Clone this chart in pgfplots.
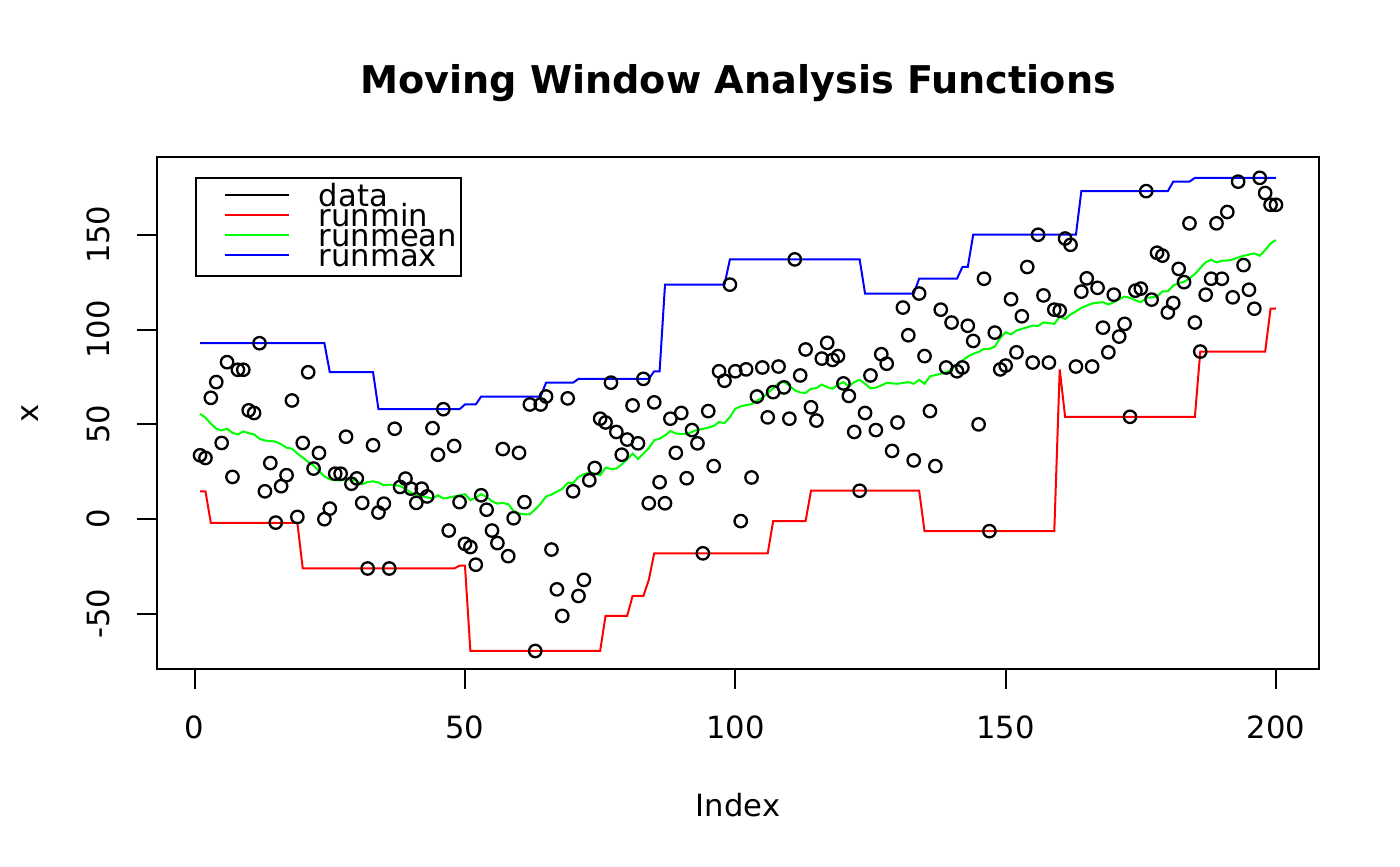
\documentclass[border=0pt]{standalone}
\usepackage{fontspec}
\setmainfont{DejaVu Sans}
\usepackage{pgfplots}
\usepackage{pgfplotstable}
\pgfplotsset{compat=1.18}

% index, value of the series
\pgfplotstableread{
i x
1 33.7
2 32.3
3 64
4 72.3
5 40.2
6 82.8
7 22.3
8 78.8
9 78.8
10 57.4
11 56
12 92.8
13 14.7
14 29.6
15 -1.8
16 17.4
17 23.2
18 62.6
19 1.2
20 40.2
21 77.5
22 26.7
23 34.9
24 0
25 5.6
26 24
27 24
28 43.5
29 18.7
30 21.5
31 8.6
32 -26
33 39
34 3.5
35 8.2
36 -26
37 47.7
38 17
39 21.4
40 16.1
41 8.6
42 16.1
43 12
44 48
45 34
46 58
47 -6
48 38.6
49 9
50 -13
51 -14.7
52 -24
53 12.6
54 5
55 -6
56 -12.6
57 37
58 -19.5
59 0.5
60 35
61 9
62 60.5
63 -69.5
64 60.5
65 64.7
66 -16
67 -37
68 -51
69 63.7
70 14.7
71 -40.5
72 -32
73 20.5
74 27
75 53
76 51
77 72
78 46
79 34
80 42
81 60
82 40
83 74
84 8.4
85 61.6
86 19.5
87 8.4
88 53
89 35
90 56
91 21.6
92 47
93 40
94 -18
95 57
96 28
97 78
98 73
99 123.7
100 78
101 -1
102 79
103 22
104 64.7
105 80
106 53.7
107 67
108 80.5
109 69.5
110 53
111 137
112 75.8
113 89.5
114 59
115 52
116 84.7
117 93
118 84
119 86
120 71.6
121 65
122 46
123 15
124 56
125 75.8
126 47
127 87
128 82
129 36
130 51
131 111.6
132 97
133 31
134 119
135 86
136 57
137 28
138 110.5
139 80
140 103.7
141 78
142 80
143 102
144 94
145 50
146 126.8
147 -6.3
148 98.4
149 79
150 81
151 116
152 88
153 107
154 133
155 82.6
156 150
157 118
158 82.6
159 110.5
160 110
161 148
162 144.7
163 80.5
164 120
165 127
166 80.5
167 122
168 101
169 88
170 118.4
171 96.3
172 103
173 54
174 120.5
175 121.6
176 173
177 115.8
178 140.5
179 139
180 109
181 114
182 132
183 125
184 156
185 103.7
186 88.4
187 118.4
188 126.8
189 156
190 126.8
191 162
192 117
193 178
194 134
195 121
196 111
197 180
198 172
199 165.8
200 165.8
}\datatable

% running mean, k = 25
\pgfplotstableread{
i m
1 55.6
2 53.5
3 50.4
4 47.7
5 46.8
6 47.7
7 45.5
8 44.7
9 46.3
10 45.4
11 44.7
12 42.4
13 41.5
14 41.2
15 40.9
16 39.5
17 37.7
18 37.2
19 34.6
20 32.5
21 30.2
22 28.2
23 25.5
24 22.6
25 21
26 20.5
27 20.5
28 21
29 20.8
30 20.2
31 18.4
32 19.6
33 20
34 19.3
35 17.9
36 18.2
37 18
38 17.5
39 16
40 14
41 12.6
42 12.1
43 11.5
44 10.9
45 12.6
46 10.9
47 11.4
48 12
49 12.6
50 13.2
51 10
52 11.4
53 13.2
54 11.8
55 9.5
56 8.2
57 8.6
58 7.9
59 4.4
60 3
61 2.6
62 2.6
63 5.1
64 8.2
65 12
66 13
67 14.5
68 16
69 19.1
70 19.1
71 22.3
72 23.7
73 24.5
74 24
75 23.2
76 27.2
77 26.5
78 26.7
79 28.9
80 31.5
81 34.6
82 31.7
83 34.6
84 37.5
85 41.6
86 42.5
87 44.2
88 46.5
89 45.2
90 45
91 44.9
92 46
93 47.2
94 47.6
95 48.3
96 49.2
97 51.2
98 50.7
99 53.8
100 58.3
101 59.5
102 60.2
103 60.6
104 62.6
105 64
106 66.5
107 69
108 71.8
109 72.3
110 70.5
111 68
112 66.8
113 66.6
114 68.8
115 69.1
116 71
117 69.6
118 68.8
119 71
120 72.3
121 70
122 72.3
123 73.5
124 71.4
125 69
126 69.4
127 70.5
128 71.9
129 71.6
130 71.4
131 71.9
132 72.3
133 71.4
134 73.5
135 71.4
136 75.3
137 76
138 76.7
139 77.5
140 79
141 81.5
142 83.7
143 85.8
144 87.2
145 88.2
146 89.8
147 89.8
148 91
149 95.5
150 98.6
151 97.4
152 99.5
153 100.4
154 101.2
155 102.1
156 101.9
157 103.8
158 103.4
159 103
160 106.8
161 105.6
162 107.9
163 109.6
164 111.5
165 112.6
166 113.8
167 114.2
168 114.4
169 113.2
170 114.4
171 116
172 117.4
173 116.7
174 115.5
175 114.4
176 116.7
177 117
178 117.4
179 120.2
180 120.2
181 123.2
182 124.5
183 125.2
184 127
185 129.3
186 132.5
187 135.5
188 136.8
189 135.4
190 136.3
191 136.3
192 137
193 138
194 138.9
195 139.5
196 140.2
197 138.9
198 141.9
199 145.4
200 147.2
}\meantable

\begin{document}
\begin{tikzpicture}
\useasboundingbox (0,0) rectangle (700pt,433pt);
\begin{axis}[
    at={(78.5pt,98.5pt)}, anchor=south west,
    scale only axis,
    width=581pt, height=256pt,
    xmin=-6.96, xmax=207.96,
    ymin=-79, ymax=191,
    xtick={0,50,100,150,200},
    ytick={-50,0,50,100,150},
    tick align=outside,
    major tick length=10pt,
    tick style={line width=1pt, black},
    axis line style={line width=1pt},
    xtick pos=lower, ytick pos=left,
    /pgf/number format/assume math mode=true,
    tick label style={font=\fontsize{15.3}{18}\selectfont},
    xticklabel style={anchor=center, yshift=-19pt},
    yticklabel style={xshift=-19.5pt, rotate=90, anchor=center},
    title={Moving Window Analysis Functions},
    title style={at={(axis description cs:0.5,1.121)}, anchor=center,
        font=\bfseries\fontsize{19.1}{21}\selectfont},
    xlabel={Index},
    xlabel style={at={(axis description cs:0.5,-0.2656)}, anchor=center,
        font=\fontsize{15.3}{18}\selectfont},
    ylabel={x},
    ylabel style={at={(axis description cs:-0.1093,0.5)}, anchor=center,
        rotate=0, font=\fontsize{15.3}{18}\selectfont},
    legend image code/.code={
        \path[draw=none, fill=none] (0pt,0.8pt) -- (59.5pt,0.8pt);
        \draw[#1, line width=1pt] (12.5pt,0.8pt) -- (44.5pt,0.8pt);
    },
    legend style={
        at={(0.0327,0.961)}, anchor=north west,
        draw=black, line width=1pt,
        inner xsep=2pt, inner ysep=4.5pt,
        row sep=0pt, column sep=0pt,
        font=\fontsize{15.3}{10}\selectfont,
        nodes={inner sep=0pt, text height=10pt, text depth=0pt},
    },
    legend cell align=left,
]
\addplot[only marks, mark=o, mark size=3.1pt, black, forget plot,
    mark options={line width=1.15pt}]
    table[x=i, y=x] {\datatable};

\addplot[red, line width=1pt, forget plot] coordinates {
    (1,14.7)(2,14.7)(3,-2)(19,-2)(20,-26)(48,-26)(49,-24.5)(50,-24.5)
    (51,-69.5)(75,-69.5)(76,-51)(80,-51)(81,-40.5)(83,-40.5)(84,-32)
    (85,-18)(106,-18)(107,-1)(113,-1)(114,15)(134,15)(135,-6.3)(159,-6.3)
    (160,79)(161,54)(185,54)(186,88.4)(198,88.4)(199,111)(200,111)
};
\addplot[green, line width=1pt, forget plot] table[x=i, y=m] {\meantable};
\addplot[blue, line width=1pt, forget plot] coordinates {
    (1,92.8)(24,92.8)(25,77.5)(33,77.5)(34,58)(49,58)(50,60.5)(52,60.5)
    (53,64.7)(64,64.7)(65,72)(70,72)(71,74)(84,74)(85,78)(86,78)
    (87,123.7)(98,123.7)(99,137)(123,137)(124,119)(133,119)(134,126.8)
    (141,126.8)(142,133)(143,133)(144,150)(163,150)(164,173)(180,173)
    (181,178)(184,178)(185,180)(200,180)
};

\addlegendimage{black}
\addlegendentry{data}
\addlegendimage{red}
\addlegendentry{runmin}
\addlegendimage{green}
\addlegendentry{runmean}
\addlegendimage{blue}
\addlegendentry{runmax}
\end{axis}
\end{tikzpicture}
\end{document}
